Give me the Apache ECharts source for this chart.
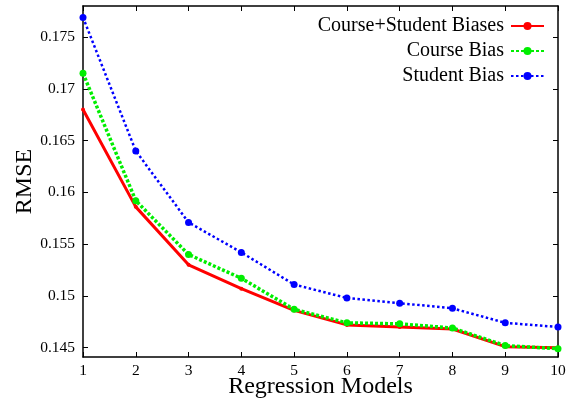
<!DOCTYPE html>
<html><head><meta charset="utf-8">
<script src="https://cdn.jsdelivr.net/npm/echarts@6/dist/echarts.min.js"></script>
<style>html,body{margin:0;padding:0;background:#fff}#c{width:580px;height:401px}</style>
</head><body><div id="c"></div>
<script>
const models = [1,2,3,4,5,6,7,8,9,10];
const courseStudent = [0.1680,0.1586,0.1530,0.1507,0.1486,0.1472,0.1470,0.1468,0.1451,0.1450];
const courseBias    = [0.1715,0.1592,0.1540,0.1517,0.1487,0.1474,0.1473,0.1469,0.1452,0.1449];
const studentBias   = [0.1769,0.1640,0.1571,0.1542,0.1511,0.1498,0.1493,0.1488,0.1474,0.1470];
const yTicks = [0.145,0.15,0.155,0.16,0.165,0.17,0.175];
const yTickLabels = ['0.145','0.15','0.155','0.16','0.165','0.17','0.175'];
const xTicks = [1,2,3,4,5,6,7,8,9,10];

const font = 'Liberation Serif';
const chart = echarts.init(document.getElementById('c'));
function pairs(ys){ return models.map((m,i)=>[m, ys[i]]); }
const yLabelFmt = v => { const i = yTicks.findIndex(t=>Math.abs(t-v)<1e-9); return i>=0 ? yTickLabels[i] : ''; };
const axLine = {show:true, lineStyle:{color:'#000', width:1.5}};
chart.setOption({
  animation:false,
  grid:{left:83, right:22, top:6, bottom:44, containLabel:false, outerBoundsMode:'none'},
  legend:{
    orient:'vertical', right:30, top:11, align:'right', itemWidth:33, itemHeight:10, itemGap:5,
    textStyle:{fontFamily:font, fontSize:20, color:'#000', padding:[0,2,0,0]},
    data:['Course+Student Biases','Course Bias','Student Bias']
  },
  xAxis:[{
    type:'value', min:1, max:10, interval:1,
    name:'Regression Models', nameLocation:'middle', nameGap:18, nameMoveOverlap:false,
    nameTextStyle:{fontFamily:font, fontSize:24, color:'#000'},
    axisLine:axLine, axisTick:{inside:true, length:5, lineStyle:{color:'#000'}},
    axisLabel:{fontFamily:font, fontSize:15.5, color:'#000', margin:6},
    splitLine:{show:false}
  },{
    type:'value', min:1, max:10, interval:1, position:'top',
    axisLine:axLine, axisTick:{inside:true, length:5, lineStyle:{color:'#000'}},
    axisLabel:{show:false}, splitLine:{show:false}
  }],
  yAxis:[{
    type:'value', min:0.1441, max:0.178,
    name:'RMSE', nameLocation:'middle', nameGap:46, nameMoveOverlap:false,
    nameTextStyle:{fontFamily:font, fontSize:24, color:'#000'},
    axisLine:axLine,
    axisTick:{inside:true, length:5, lineStyle:{color:'#000'}, customValues:yTicks},
    axisLabel:{fontFamily:font, fontSize:15.5, color:'#000', margin:8, customValues:yTicks, formatter:yLabelFmt},
    splitLine:{show:false}
  },{
    type:'value', min:0.1441, max:0.178, position:'right',
    axisLine:axLine,
    axisTick:{inside:true, length:5, lineStyle:{color:'#000'}, customValues:yTicks},
    axisLabel:{show:false, customValues:yTicks}, splitLine:{show:false}
  }],
  series:[
    {name:'Course+Student Biases', type:'line', data:pairs(courseStudent), symbol:'circle', symbolSize:4,
     itemStyle:{color:'#ff0000'}, lineStyle:{color:'#ff0000', width:3}, z:3},
    {name:'Course Bias', type:'line', data:pairs(courseBias), symbol:'circle', symbolSize:7,
     itemStyle:{color:'#00ee00'}, lineStyle:{color:'#00ee00', width:3.5, type:[3,2]}, z:4},
    {name:'Student Bias', type:'line', data:pairs(studentBias), symbol:'circle', symbolSize:7,
     itemStyle:{color:'#0000ff'}, lineStyle:{color:'#0000ff', width:2.5, type:[2.5,2.5]}, z:5}
  ]
});
</script></body></html>
